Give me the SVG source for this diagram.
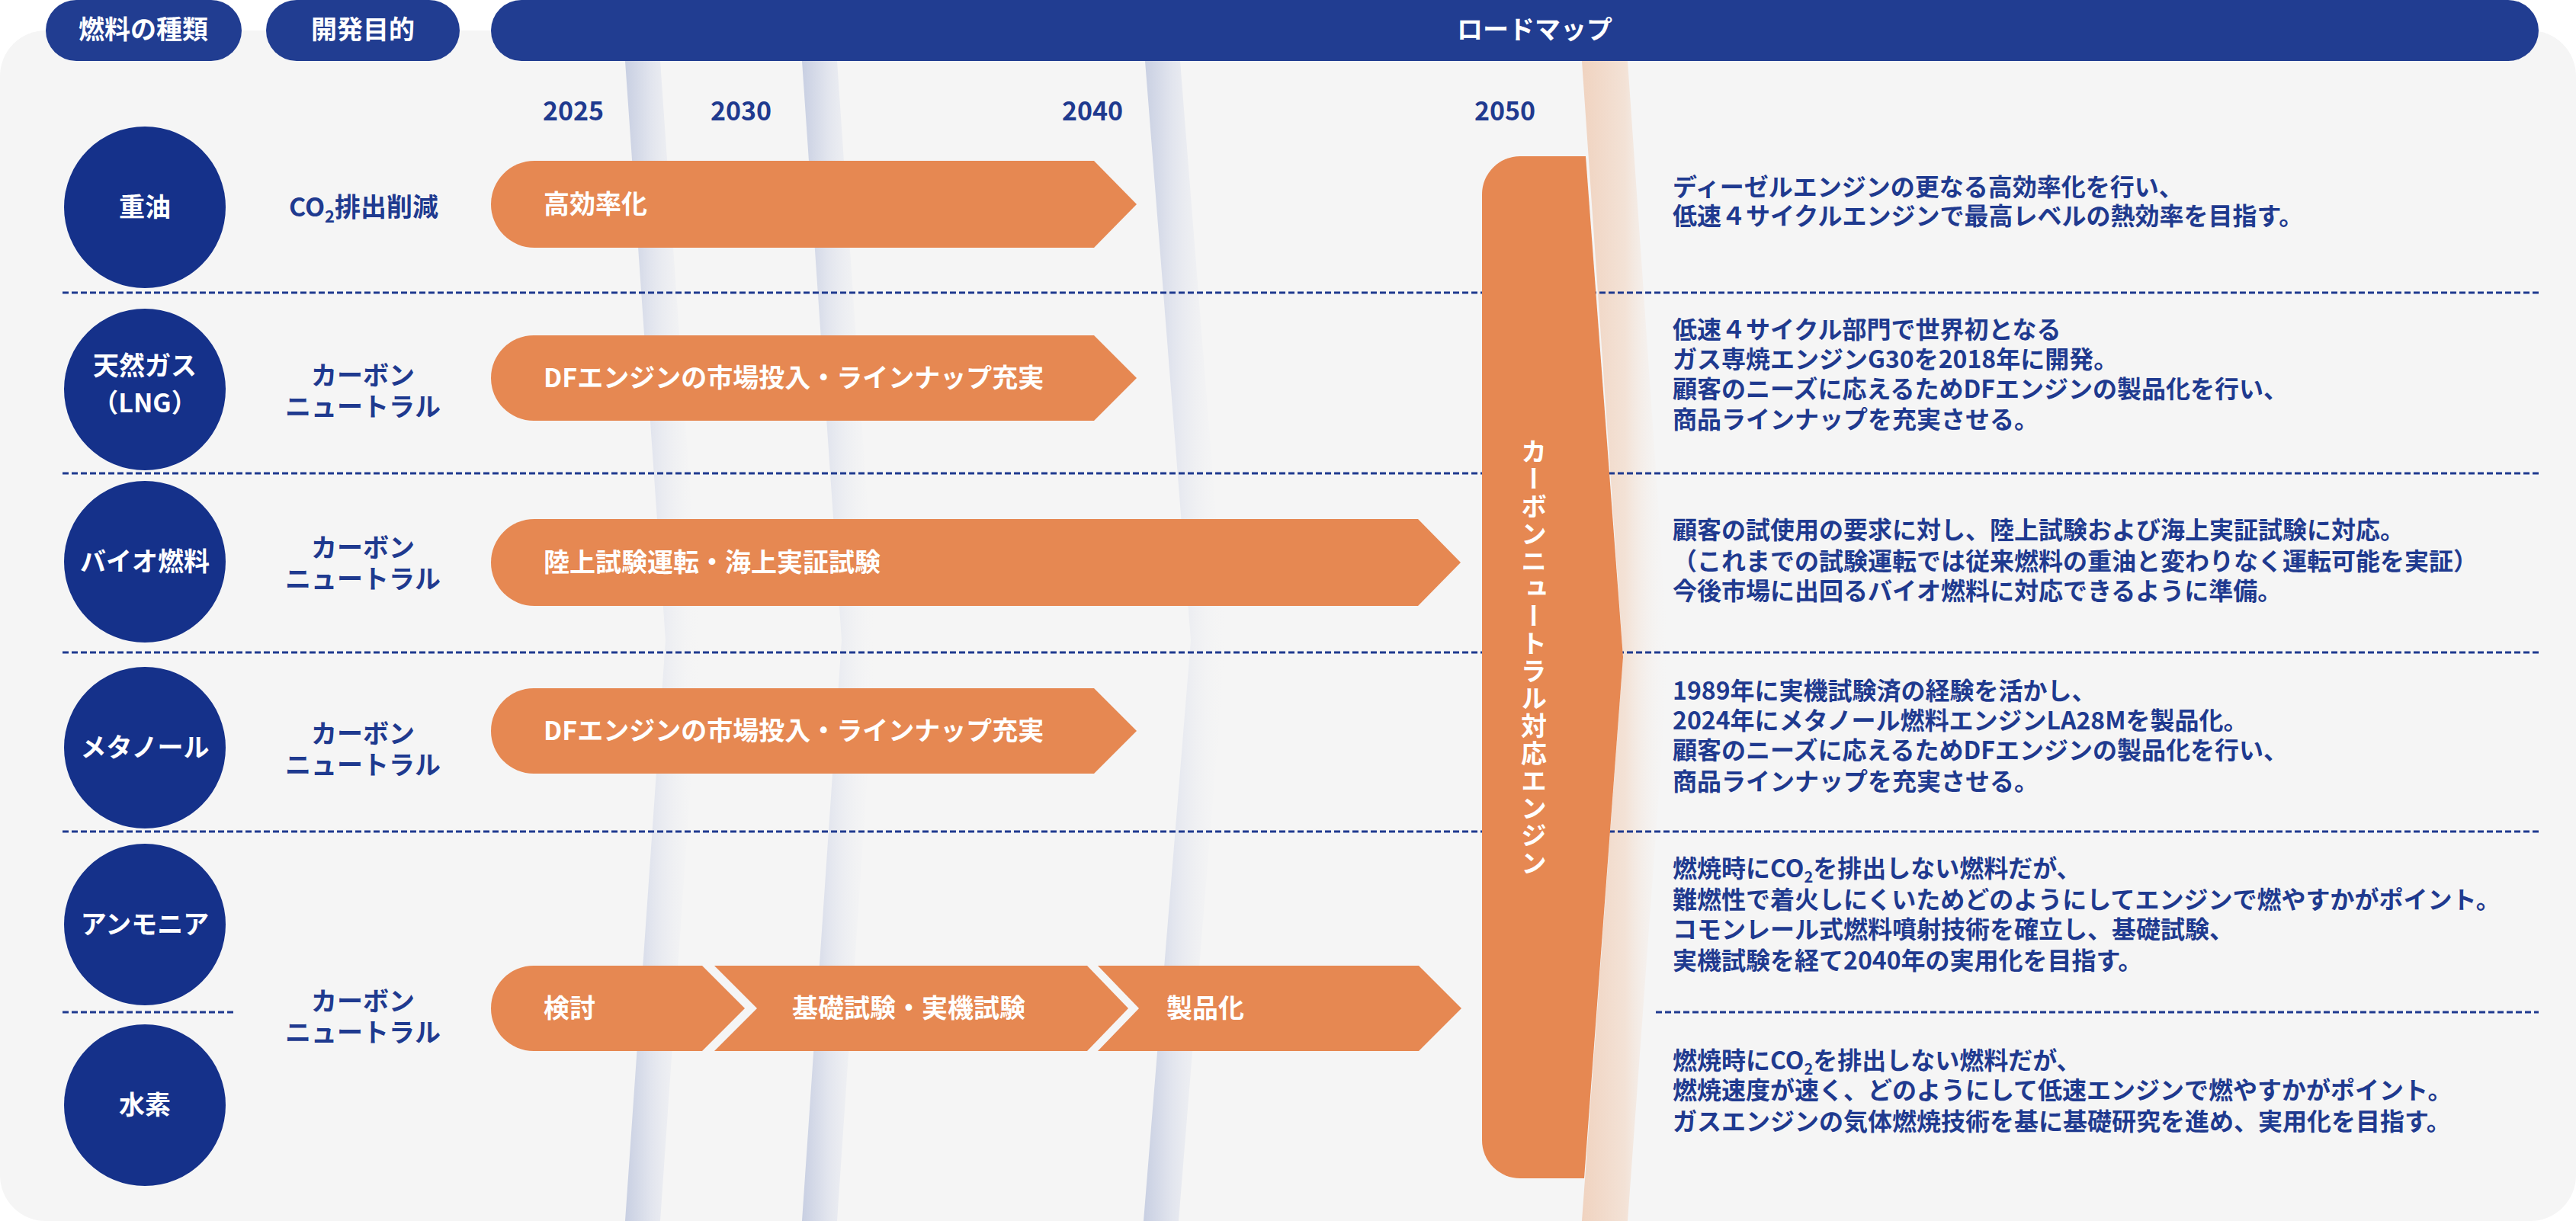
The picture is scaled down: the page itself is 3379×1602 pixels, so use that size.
<svg xmlns="http://www.w3.org/2000/svg" width="3379" height="1602" viewBox="0 0 3379 1602">
<style>
text{font-family:"Noto Sans CJK JP","Noto Sans",sans-serif;font-weight:700}
.w{fill:#fff;font-size:34px}
.n{fill:#1f3a8f;font-size:34px}
.d{fill:#1f3a8f;font-size:32px}
.c{fill:#15318a}
.o{fill:#e68852}
.p{fill:#213d91}
.dash{stroke:#1f3a8f;stroke-width:3;stroke-dasharray:8 4;fill:none}
</style>
<defs>
<linearGradient id="gb" x1="0" x2="1" y1="0" y2="0"><stop offset="0" stop-color="#c8cfe2"/><stop offset="0.35" stop-color="#e2e5ee"/><stop offset="1" stop-color="#f5f5f5" stop-opacity="0"/></linearGradient>
<linearGradient id="go" x1="0" x2="1" y1="0" y2="0"><stop offset="0" stop-color="#f0d3c0"/><stop offset="0.5" stop-color="#f3e2d6"/><stop offset="1" stop-color="#f5f5f5" stop-opacity="0"/></linearGradient>
</defs>
<rect x="0" y="40" width="3379" height="1562" rx="60" fill="#f5f5f5"/>
<g id="bands">
<path d="M820,80 L873,840 L820,1602 L866,1602 L919,840 L866,80 Z" fill="url(#gb)"/>
<path d="M1052,80 L1104,840 L1052,1602 L1098,1602 L1150,840 L1098,80 Z" fill="url(#gb)"/>
<path d="M1502,80 L1562,840 L1500,1602 L1546,1602 L1608,840 L1548,80 Z" fill="url(#gb)"/>
<path d="M2075,80 L2129,862 L2075,1602 L2135,1602 L2189,862 L2135,80 Z" fill="url(#go)"/>
</g>
<g id="headers">
<rect class="p" x="60" y="0" width="257" height="80" rx="40"/><text class="w" x="188" y="51" text-anchor="middle">燃料の種類</text>
<rect class="p" x="349" y="0" width="254" height="80" rx="40"/><text class="w" x="476" y="51" text-anchor="middle">開発目的</text>
<rect class="p" x="644" y="0" width="2686" height="80" rx="40"/><text class="w" x="2013" y="51" text-anchor="middle">ロードマップ</text>
</g>
<g id="years">
<text class="n" x="752" y="158" text-anchor="middle">2025</text>
<text class="n" x="972" y="158" text-anchor="middle">2030</text>
<text class="n" x="1433" y="158" text-anchor="middle">2040</text>
<text class="n" x="1974" y="158" text-anchor="middle">2050</text>
</g>
<g id="connectors">
<line class="dash" x1="82" y1="384" x2="3330" y2="384"/>
<line class="dash" x1="82" y1="621" x2="3330" y2="621"/>
<line class="dash" x1="82" y1="856" x2="3330" y2="856"/>
<line class="dash" x1="82" y1="1091" x2="3330" y2="1091"/>
<line class="dash" x1="82" y1="1328" x2="306" y2="1328"/>
<line class="dash" x1="2172" y1="1328" x2="3330" y2="1328"/>
</g>
<g id="fuels">
<g id="f1"><circle class="c" cx="190" cy="272" r="106"/><text class="w" x="190" y="284" text-anchor="middle">重油</text></g>
<g id="f2"><circle class="c" cx="190" cy="511" r="106"/><text class="w" x="190" y="492" text-anchor="middle">天然ガス</text><text class="w" x="190" y="541" text-anchor="middle">（LNG）</text></g>
<g id="f3"><circle class="c" cx="190" cy="737" r="106"/><text class="w" x="190" y="749" text-anchor="middle">バイオ燃料</text></g>
<g id="f4"><circle class="c" cx="190" cy="981" r="106"/><text class="w" x="190" y="993" text-anchor="middle">メタノール</text></g>
<g id="f5"><circle class="c" cx="190" cy="1213" r="106"/><text class="w" x="190" y="1225" text-anchor="middle">アンモニア</text></g>
<g id="f6"><circle class="c" cx="190" cy="1450" r="106"/><text class="w" x="190" y="1462" text-anchor="middle">水素</text></g>
</g>
<g id="purposes">
<text class="n" x="477" y="284" text-anchor="middle">CO<tspan font-size="22" dy="8">2</tspan><tspan dy="-8">排出削減</tspan></text>
<text class="n" x="476" y="505" text-anchor="middle">カーボン</text><text class="n" x="476" y="546" text-anchor="middle">ニュートラル</text>
<text class="n" x="476" y="731" text-anchor="middle">カーボン</text><text class="n" x="476" y="772" text-anchor="middle">ニュートラル</text>
<text class="n" x="476" y="975" text-anchor="middle">カーボン</text><text class="n" x="476" y="1016" text-anchor="middle">ニュートラル</text>
<text class="n" x="476" y="1326" text-anchor="middle">カーボン</text><text class="n" x="476" y="1367" text-anchor="middle">ニュートラル</text>
</g>
<g id="arrows">
<g id="a1"><path class="o" d="M701,211 L1435,211 L1491,268 L1435,325 L701,325 A57,57 0 0 1 701,211 Z"/><text class="w" x="713" y="280">高効率化</text></g>
<g id="a2"><path class="o" d="M700,440 L1435,440 L1491,496 L1435,552 L700,552 A56,56 0 0 1 700,440 Z"/><text class="w" x="713" y="508">DFエンジンの市場投入・ラインナップ充実</text></g>
<g id="a3"><path class="o" d="M701,681 L1860,681 L1916,738 L1860,795 L701,795 A57,57 0 0 1 701,681 Z"/><text class="w" x="713" y="750">陸上試験運転・海上実証試験</text></g>
<g id="a4"><path class="o" d="M700,903 L1435,903 L1491,959 L1435,1015 L700,1015 A56,56 0 0 1 700,903 Z"/><text class="w" x="713" y="971">DFエンジンの市場投入・ラインナップ充実</text></g>
<g id="a5"><path class="o" d="M700,1267 L921,1267 L977,1323 L921,1379 L700,1379 A56,56 0 0 1 700,1267 Z"/><text class="w" x="713" y="1335">検討</text></g>
<g id="a6"><path class="o" d="M937,1267 L1426,1267 L1480,1323 L1426,1379 L937,1379 L993,1323 Z"/><text class="w" x="1039" y="1335">基礎試験・実機試験</text></g>
<g id="a7"><path class="o" d="M1440,1267 L1861,1267 L1917,1323 L1861,1379 L1440,1379 L1494,1323 Z"/><text class="w" x="1530" y="1335">製品化</text></g>
</g>
<g id="bar2050">
<path class="o" d="M1994,205 L2080,205 L2129,862 L2078,1546 L1994,1546 A50,50 0 0 1 1944,1496 L1944,255 A50,50 0 0 1 1994,205 Z"/>
<text class="w" x="2012" y="575" writing-mode="vertical-rl" letter-spacing="2">カーボンニュートラル対応エンジン</text>
</g>
<g id="descriptions">
<text class="d" x="2194" y="257">ディーゼルエンジンの更なる高効率化を行い、</text>
<text class="d" x="2194" y="295">低速４サイクルエンジンで最高レベルの熱効率を目指す。</text>
<text class="d" x="2194" y="444">低速４サイクル部門で世界初となる</text>
<text class="d" x="2194" y="483">ガス専焼エンジンG30を2018年に開発。</text>
<text class="d" x="2194" y="522">顧客のニーズに応えるためDFエンジンの製品化を行い、</text>
<text class="d" x="2194" y="562">商品ラインナップを充実させる。</text>
<text class="d" x="2194" y="707">顧客の試使用の要求に対し、陸上試験および海上実証試験に対応。</text>
<text class="d" x="2194" y="748">（これまでの試験運転では従来燃料の重油と変わりなく運転可能を実証）</text>
<text class="d" x="2194" y="787">今後市場に出回るバイオ燃料に対応できるように準備。</text>
<text class="d" x="2194" y="918">1989年に実機試験済の経験を活かし、</text>
<text class="d" x="2194" y="957">2024年にメタノール燃料エンジンLA28Mを製品化。</text>
<text class="d" x="2194" y="996">顧客のニーズに応えるためDFエンジンの製品化を行い、</text>
<text class="d" x="2194" y="1037">商品ラインナップを充実させる。</text>
<text class="d" x="2194" y="1151">燃焼時にCO<tspan font-size="20" dy="7">2</tspan><tspan dy="-7">を排出しない燃料だが、</tspan></text>
<text class="d" x="2194" y="1192">難燃性で着火しにくいためどのようにしてエンジンで燃やすかがポイント。</text>
<text class="d" x="2194" y="1231">コモンレール式燃料噴射技術を確立し、基礎試験、</text>
<text class="d" x="2194" y="1272">実機試験を経て2040年の実用化を目指す。</text>
<text class="d" x="2194" y="1403">燃焼時にCO<tspan font-size="20" dy="7">2</tspan><tspan dy="-7">を排出しない燃料だが、</tspan></text>
<text class="d" x="2194" y="1442">燃焼速度が速く、どのようにして低速エンジンで燃やすかがポイント。</text>
<text class="d" x="2194" y="1483">ガスエンジンの気体燃焼技術を基に基礎研究を進め、実用化を目指す。</text>
</g>
</svg>
